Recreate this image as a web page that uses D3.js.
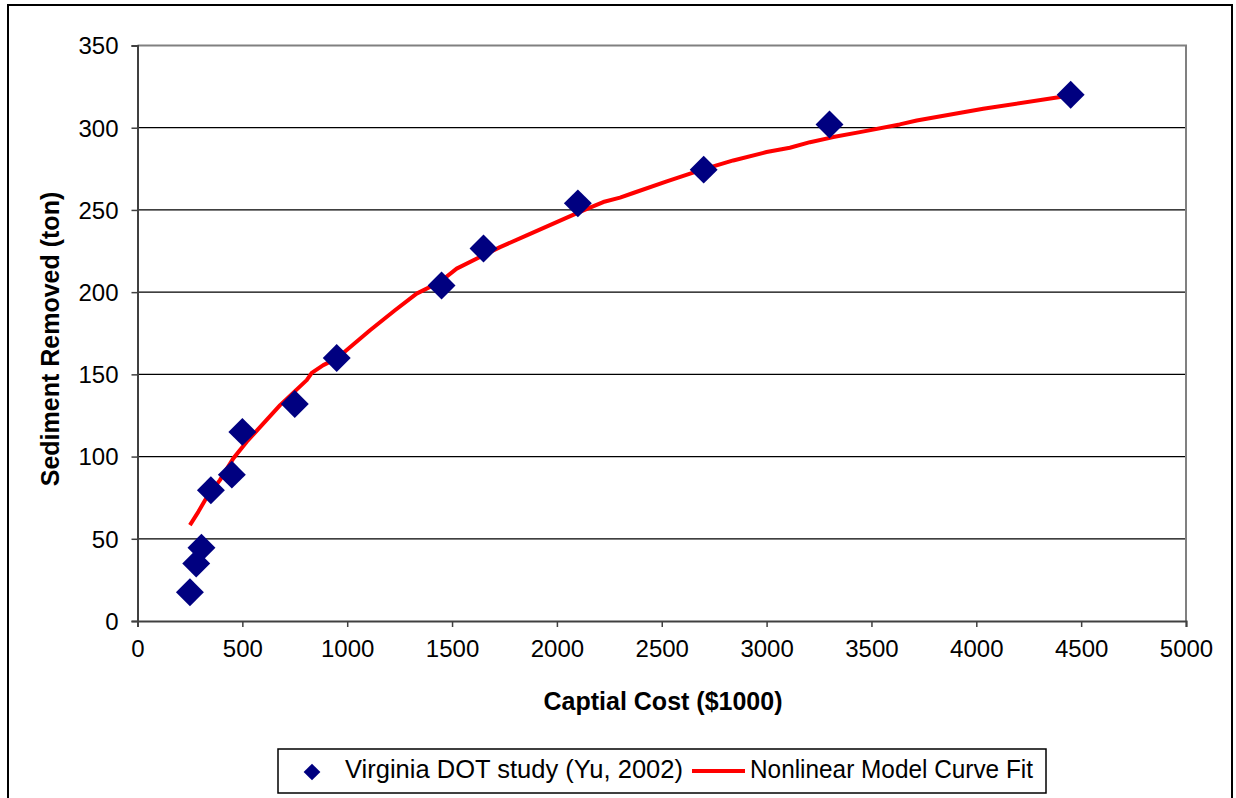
<!DOCTYPE html>
<html>
<head>
<meta charset="utf-8">
<script src="https://cdn.jsdelivr.net/npm/d3@7"></script>
<style>
  body { margin: 0; background: #fff; }
  svg { display: block; font-family: "Liberation Sans", Arial, sans-serif; }
</style>
</head>
<body>
<div class="chart"></div>
<script>
// observed data (Virginia DOT study)
const costX = [250, 280, 305, 350, 450, 500, 750, 950, 1450, 1650, 2100, 2700, 3300, 4450];
const sedimentY = [17.5, 35, 44.5, 79.5, 89, 115, 132, 160, 204, 226.5, 254, 274.5, 302, 320];

// fitted curve
const fitX = [250, 290, 322, 393, 457, 521, 680, 807, 831, 886, 950, 1109, 1228, 1331, 1442, 1522, 1633, 1729,
              1856, 1999, 2126, 2221, 2301, 2364, 2524, 2682, 2841, 3000, 3111, 3207, 3318, 3445, 3635, 3716, 4033, 4447];
const fitY = [58.3, 66.4, 73.5, 85.7, 98.9, 109, 131.3, 146.5, 150.9, 155.6, 159.6, 176.8, 189, 199.1, 206.2, 214.3, 221.4, 227.4,
              234.5, 242.6, 249.7, 254.8, 257.5, 260.3, 267.4, 274.1, 280.1, 285.2, 287.8, 291.2, 294.3, 297.3, 302, 304.4, 311.5, 319.6];

const xTicks = [0, 500, 1000, 1500, 2000, 2500, 3000, 3500, 4000, 4500, 5000];
const yTicks = [0, 50, 100, 150, 200, 250, 300, 350];

const W = 1236, H = 798;
const margin = {top: 45.5, right: 50, bottom: 177, left: 137.5};
const width = 1186 - margin.left,
      height = 621 - margin.top;

const svg = d3.select(".chart")
  .append("svg")
    .attr("width", W)
    .attr("height", H);

// outer chart frame
svg.append("rect")
  .attr("x", 8).attr("y", 5)
  .attr("width", 1224).attr("height", 820)
  .attr("fill", "none")
  .attr("stroke", "#000")
  .attr("stroke-width", 2);

const g = svg.append("g")
  .attr("transform", `translate(${margin.left},${margin.top})`);

const x = d3.scaleLinear().domain([0, 5000]).range([0, width]);
const y = d3.scaleLinear().domain([0, 350]).range([height, 0]);

// gridlines
g.selectAll(".grid")
  .data(yTicks.filter(d => d > 0 && d < 350))
  .enter()
  .append("line")
    .attr("class", "grid")
    .attr("x1", 0).attr("x2", width)
    .attr("y1", d => y(d)).attr("y2", d => y(d))
    .attr("stroke", "#000")
    .attr("stroke-width", 1.3);

// plot border (top + right, gray)
g.append("path")
  .attr("d", `M0,0H${width}V${height}`)
  .attr("fill", "none")
  .attr("stroke", "#808080")
  .attr("stroke-width", 2);

// axes
const xAxis = g.append("g")
  .attr("transform", `translate(0,${height})`)
  .call(d3.axisBottom(x).tickValues(xTicks).tickSize(6).tickPadding(13).tickFormat(d3.format("d")));
const yAxis = g.append("g")
  .call(d3.axisLeft(y).tickValues(yTicks).tickSize(6).tickPadding(13).tickFormat(d3.format("d")));

[xAxis, yAxis].forEach(a => {
  a.select(".domain").attr("stroke", "#404040").attr("stroke-width", 2);
  a.selectAll(".tick line").attr("stroke", "#404040").attr("stroke-width", 1.5);
  a.selectAll(".tick text")
    .attr("fill", "#000")
    .style("font-family", "Liberation Sans, Arial, sans-serif")
    .style("font-size", "24px");
});
yAxis.selectAll(".tick text").attr("dy", "0.35em");

// fitted curve
const line = d3.line()
  .x((d, i) => x(fitX[i]))
  .y(d => y(d));

g.append("path")
  .datum(fitY)
  .attr("d", line)
  .attr("fill", "none")
  .attr("stroke", "#ff0000")
  .attr("stroke-width", 4)
  .attr("stroke-linejoin", "round");

// diamonds
const diamond = d3.symbol().type(d3.symbolSquare).size(390);
g.selectAll(".pt")
  .data(costX)
  .enter()
  .append("path")
    .attr("class", "pt")
    .attr("d", diamond)
    .attr("transform", (d, i) => `translate(${x(d)},${y(sedimentY[i])}) rotate(45)`)
    .attr("fill", "#000080");

// axis titles
svg.append("text")
  .attr("x", 663).attr("y", 703)
  .attr("text-anchor", "middle")
  .attr("dominant-baseline", "middle")
  .attr("font-weight", "bold")
  .attr("font-size", "25px")
  .text("Captial Cost ($1000)");

svg.append("text")
  .attr("transform", "translate(52,339) rotate(-90)")
  .attr("text-anchor", "middle")
  .attr("dominant-baseline", "middle")
  .attr("font-weight", "bold")
  .attr("font-size", "25px")
  .text("Sediment Removed (ton)");

// legend
const lg = svg.append("g");
lg.append("rect")
  .attr("x", 278).attr("y", 749)
  .attr("width", 768).attr("height", 44)
  .attr("fill", "#fff")
  .attr("stroke", "#000")
  .attr("stroke-width", 1.5);
lg.append("path")
  .attr("d", d3.symbol().type(d3.symbolSquare).size(140))
  .attr("transform", "translate(312,772) rotate(45)")
  .attr("fill", "#000080");
lg.append("text")
  .attr("x", 345).attr("y", 771)
  .attr("dominant-baseline", "middle")
  .attr("font-size", "25.5px")
  .attr("textLength", 338)
  .attr("lengthAdjust", "spacingAndGlyphs")
  .text("Virginia DOT study (Yu, 2002)");
lg.append("line")
  .attr("x1", 692).attr("x2", 745)
  .attr("y1", 771).attr("y2", 771)
  .attr("stroke", "#ff0000")
  .attr("stroke-width", 4);
lg.append("text")
  .attr("x", 750).attr("y", 771)
  .attr("dominant-baseline", "middle")
  .attr("font-size", "25.5px")
  .attr("textLength", 283)
  .attr("lengthAdjust", "spacingAndGlyphs")
  .text("Nonlinear Model Curve Fit");
</script>
</body>
</html>
